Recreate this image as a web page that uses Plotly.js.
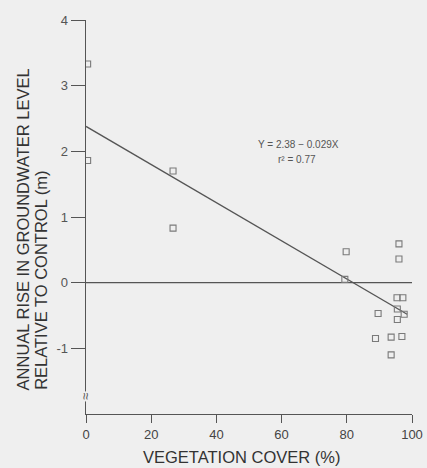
<!DOCTYPE html>
<html>
<head>
<meta charset="utf-8">
<script src="https://cdn.plot.ly/plotly-3.0.1.min.js"></script>
<style>
html,body{margin:0;padding:0;background:#efefef;}
#chart{width:427px;height:468px;}
</style>
</head>
<body>
<div id="chart"></div>
<script>
// Observed data (vegetation cover %, annual rise in groundwater level relative to control, m)
const coverX = [0.5, 0.5, 26.7, 26.7, 79.8, 79.4, 96, 96, 95.4, 97.2, 89.6, 95.5, 97.6, 95.5, 88.8, 93.6, 96.9, 93.6];
const riseY  = [3.33, 1.86, 1.70, 0.83, 0.47, 0.05, 0.59, 0.36, -0.23, -0.23, -0.47, -0.40, -0.48, -0.56, -0.85, -0.83, -0.82, -1.10];

// Regression line endpoints (Y = 2.38 - 0.029X)
const fitX = [0, 98.5];
const fitY = [2.38, -0.48];

// Zero reference line
const zeroX = [0, 100];
const zeroY = [0, 0];

// Ticks
const xTicks = [0, 20, 40, 60, 80, 100];
const yTicks = [-1, 0, 1, 2, 3, 4];

const eqLine1 = 'Y = 2.38 \u2212 0.029X';
const eqLine2 = 'r\u00b2 = 0.77';
const xTitle = 'VEGETATION COVER (%)';
const yTitle1 = 'ANNUAL RISE IN GROUNDWATER LEVEL';
const yTitle2 = 'RELATIVE TO CONTROL (m)';

const lineCol = '#555555';
const font = 'Liberation Sans, Arial, Helvetica, sans-serif';

const traces = [
  {x: zeroX, y: zeroY, mode: 'lines', line: {color: lineCol, width: 1.3}, hoverinfo: 'skip', showlegend: false},
  {x: fitX, y: fitY, mode: 'lines', line: {color: lineCol, width: 1.3}, hoverinfo: 'skip', showlegend: false},
  {x: coverX, y: riseY, mode: 'markers', showlegend: false,
   marker: {symbol: 'square-open', size: 6, color: '#7a7a7a', line: {width: 1.1, color: '#7a7a7a'}}}
];

const layout = {
  width: 427, height: 468,
  margin: {l: 86, r: 15, t: 20, b: 54},
  paper_bgcolor: '#efefef',
  plot_bgcolor: '#efefef',
  font: {family: font, color: '#444'},
  showlegend: false,
  xaxis: {
    range: [0, 100], tickvals: xTicks, ticktext: xTicks.map(String),
    showgrid: false, zeroline: false, showline: true, linecolor: lineCol, linewidth: 1.3,
    ticks: 'outside', ticklen: 8, tickcolor: lineCol, tickwidth: 1,
    tickfont: {size: 13, color: '#444', family: font}
  },
  yaxis: {
    range: [-2, 4], tickvals: yTicks, ticktext: yTicks.map(String),
    showgrid: false, zeroline: false, showline: true, linecolor: lineCol, linewidth: 1.3,
    ticks: 'outside', ticklen: 14, tickcolor: lineCol, tickwidth: 1,
    tickfont: {size: 13, color: '#555', family: font}
  },
  annotations: [
    {text: eqLine1, xref: 'x', yref: 'y', x: 65.3, y: 2.10, showarrow: false,
     font: {size: 10, color: '#555', family: font}},
    {text: eqLine2, xref: 'x', yref: 'y', x: 64.8, y: 1.87, showarrow: false,
     font: {size: 10, color: '#555', family: font}},
    {text: xTitle, xref: 'x', yref: 'paper', x: 47.7, y: -0.109, yanchor: 'middle', showarrow: false,
     font: {size: 16.5, color: '#333', family: font}},
    {text: yTitle1, xref: 'paper', yref: 'y', x: -0.193, y: -1.67, xanchor: 'center', yanchor: 'bottom',
     textangle: -90, showarrow: false, font: {size: 16.5, color: '#333', family: font}},
    {text: yTitle2, xref: 'paper', yref: 'y', x: -0.138, y: -1.67, xanchor: 'center', yanchor: 'bottom',
     textangle: -90, showarrow: false, font: {size: 16.5, color: '#333', family: font}},
    {text: '\u2248', xref: 'paper', yref: 'y', x: 0, y: -1.74, xanchor: 'center', yanchor: 'middle',
     showarrow: false, textangle: -90, bgcolor: '#efefef',
     font: {size: 13, color: '#555', family: font}}
  ]
};

Plotly.newPlot('chart', traces, layout, {staticPlot: true, displayModeBar: false});
</script>
</body>
</html>
